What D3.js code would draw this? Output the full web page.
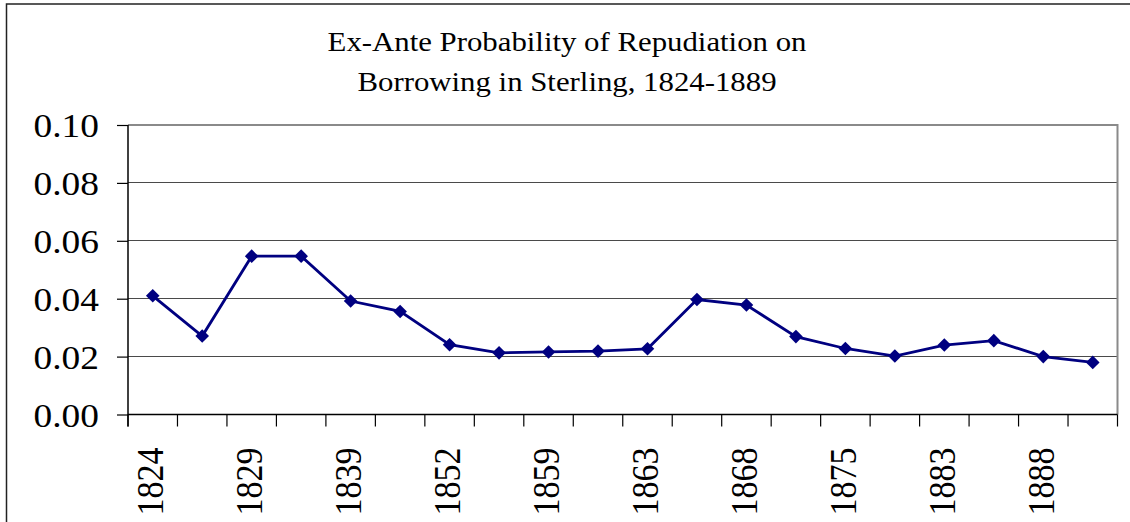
<!DOCTYPE html>
<html>
<head>
<meta charset="utf-8">
<script src="https://cdn.jsdelivr.net/npm/d3@7"></script>
<style>
  body { margin: 0; background: #fff; }
  text { font-family: "Liberation Serif", "Times New Roman", serif; fill: #000; }
</style>
</head>
<body>
<script>
// tick labels: only every other category is labelled in the original
const labels = ["1824", "", "1829", "", "1839", "", "1852", "", "1859", "",
                "1863", "", "1868", "", "1875", "", "1883", "", "1888", ""];
const values = [0.0410, 0.0271, 0.0547, 0.0547, 0.0392, 0.0356, 0.0241, 0.0213, 0.0216, 0.0219,
                0.0227, 0.0397, 0.0378, 0.0269, 0.0228, 0.0202, 0.0240, 0.0255, 0.0200, 0.0180];
const yTicks = [0, 0.02, 0.04, 0.06, 0.08, 0.10];
const titleLines = ["Ex-Ante Probability of Repudiation on", "Borrowing in Sterling, 1824-1889"];

const w = 1130;
const h = 522;
const plotL = 128, plotR = 1117.5, plotT = 125, plotB = 414.5;
const stretch = 1.1; // the original's text is a little wider than plain Times

const svg = d3.select("body").append("svg")
  .attr("width", w)
  .attr("height", h);

// outer chart border (runs off the right and bottom edges)
svg.append("rect")
  .attr("x", 6.5).attr("y", 4)
  .attr("width", w + 20).attr("height", h + 20)
  .attr("fill", "none")
  .attr("stroke", "#222")
  .attr("stroke-width", 1.5);

const idx = d3.range(values.length);
const xScale = d3.scaleBand()
  .domain(idx)
  .range([plotL, plotR]);

const yScale = d3.scaleLinear()
  .domain([0, 0.1])
  .range([plotB, plotT]);

// gridlines (snapped to pixel centres so they stay crisp)
svg.append("g")
  .selectAll("line")
  .data(yTicks.slice(1, -1))
  .enter()
  .append("line")
  .attr("x1", plotL).attr("x2", plotR)
  .attr("y1", d => Math.floor(yScale(d)) + 0.5).attr("y2", d => Math.floor(yScale(d)) + 0.5)
  .attr("stroke", "#4a4a4a")
  .attr("stroke-width", 1);

// plot area border (top + right, grey)
svg.append("path")
  .attr("d", `M${plotL},${plotT}H${plotR}V${plotB}`)
  .attr("fill", "none")
  .attr("stroke", "#8a8a8a")
  .attr("stroke-width", 2);

// y axis
const yAxis = d3.axisLeft(yScale)
  .tickValues(yTicks)
  .tickFormat(d3.format(".2f"))
  .tickSize(11)
  .tickPadding(18);

const yg = svg.append("g")
  .attr("id", "y-axis")
  .attr("transform", "translate(" + plotL + ",0)")
  .call(yAxis);
yg.select(".domain").attr("stroke", "#000").attr("stroke-width", 1.5)
  .attr("d", `M0,${plotT}V${plotB + 12}`);
yg.selectAll(".tick line").attr("stroke", "#000").attr("stroke-width", 1.2);
yg.selectAll(".tick text")
  .attr("x", 0)
  .attr("transform", "translate(-29,0) scale(" + stretch + ",1)")
  .style("font-size", "34px")
  .style("font-family", "'Liberation Serif', 'Times New Roman', serif")
  .attr("dy", "0.34em");

// x axis: ticks at category boundaries
const bounds = idx.map(i => xScale(i)).concat([plotR]);
const xg = svg.append("g").attr("id", "x-axis");
xg.append("line")
  .attr("x1", plotL).attr("x2", plotR)
  .attr("y1", plotB).attr("y2", plotB)
  .attr("stroke", "#000").attr("stroke-width", 1.5);
xg.selectAll(".xtick")
  .data(bounds)
  .enter()
  .append("line")
  .attr("class", "xtick")
  .attr("x1", d => d).attr("x2", d => d)
  .attr("y1", plotB).attr("y2", plotB + 12)
  .attr("stroke", "#000").attr("stroke-width", 1.2);

xg.selectAll(".xlabel")
  .data(idx.filter(i => labels[i] !== ""))
  .enter()
  .append("text")
  .attr("class", "xlabel")
  .attr("text-anchor", "end")
  .attr("transform", i => "translate(" + (xScale(i) + xScale.bandwidth() / 2 + 10.5) + "," + (plotB + 33) + ") scale(" + stretch + ",1) rotate(-90)")
  .style("font-size", "34px")
  .text(i => labels[i]);

// series line
const line = d3.line()
  .x(i => xScale(i) + xScale.bandwidth() / 2)
  .y(i => yScale(values[i]));

svg.append("path")
  .datum(idx)
  .attr("d", line)
  .attr("fill", "none")
  .attr("stroke", "#000080")
  .attr("stroke-width", 2.8);

// diamond markers
svg.selectAll(".dot")
  .data(idx)
  .enter()
  .append("path")
  .attr("class", "dot")
  .attr("d", d3.symbol().type(d3.symbolDiamond2).size(118))
  .attr("transform", i => "translate(" + (xScale(i) + xScale.bandwidth() / 2) + "," + yScale(values[i]) + ")")
  .attr("fill", "#000080");

// title
const title = svg.append("text")
  .attr("transform", "translate(567,51) scale(" + stretch + ",1)")
  .attr("text-anchor", "middle")
  .style("font-size", "28px");
title.selectAll("tspan")
  .data(titleLines)
  .enter()
  .append("tspan")
  .attr("x", 0)
  .attr("dy", (d, i) => i === 0 ? 0 : 40)
  .text(d => d);
</script>
</body>
</html>
